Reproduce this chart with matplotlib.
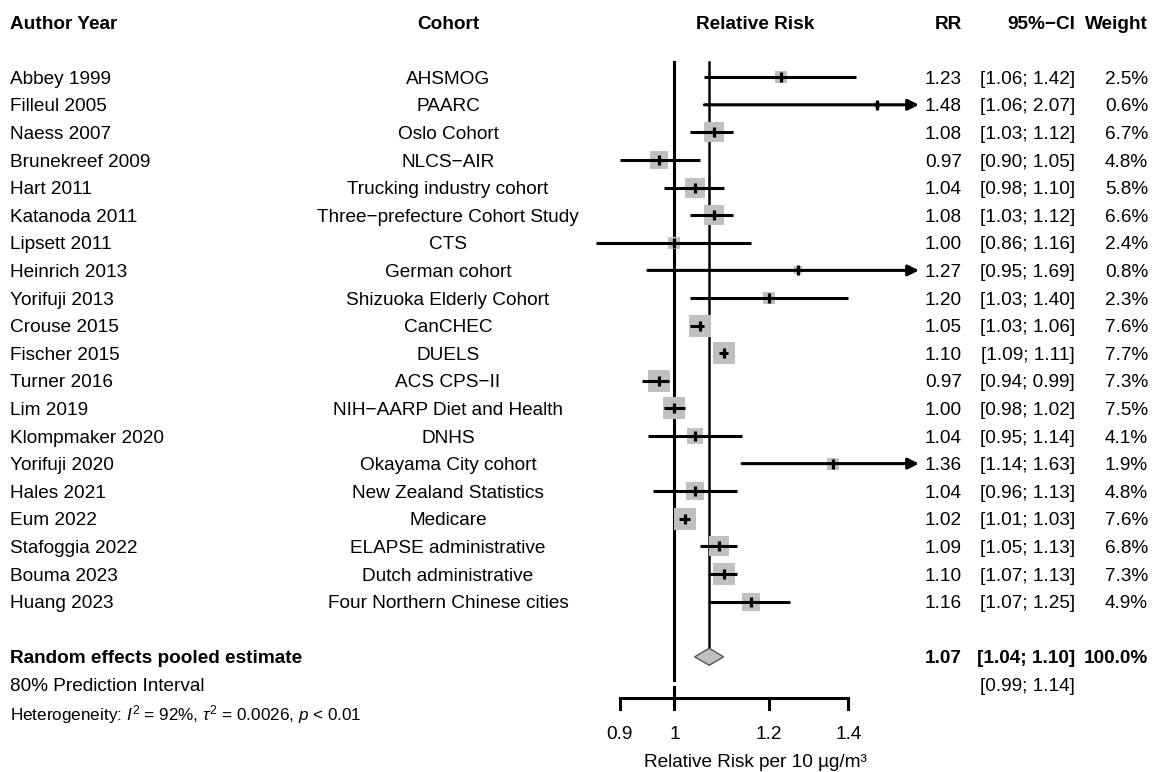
#-*- coding: utf-8 -*-
#-----------------------------------------------------#
# Forest plot: relative risk per 10 ug/m3             #
#-----------------------------------------------------#
import numpy as np
import matplotlib
matplotlib.use('Agg')
import matplotlib.pyplot as plt
import matplotlib.transforms as mtransforms

plt.rcParams['font.family'] = ['Liberation Sans', 'DejaVu Sans']
plt.rcParams['mathtext.fontset'] = 'custom'
plt.rcParams['mathtext.rm'] = 'Liberation Sans'
plt.rcParams['mathtext.it'] = 'Liberation Sans:italic'
plt.rcParams['mathtext.bf'] = 'Liberation Sans:bold'

#----------------------------------------------------------#
# Dados dos estudos                                        #
#----------------------------------------------------------#
authors = ['Abbey 1999', 'Filleul 2005', 'Naess 2007', 'Brunekreef 2009', 'Hart 2011',
           'Katanoda 2011', 'Lipsett 2011', 'Heinrich 2013', 'Yorifuji 2013', 'Crouse 2015',
           'Fischer 2015', 'Turner 2016', 'Lim 2019', 'Klompmaker 2020', 'Yorifuji 2020',
           'Hales 2021', 'Eum 2022', 'Stafoggia 2022', 'Bouma 2023', 'Huang 2023']
cohorts = ['AHSMOG', 'PAARC', 'Oslo Cohort', 'NLCS\u2212AIR', 'Trucking industry cohort',
           'Three\u2212prefecture Cohort Study', 'CTS', 'German cohort', 'Shizuoka Elderly Cohort',
           'CanCHEC', 'DUELS', 'ACS CPS\u2212II', 'NIH\u2212AARP Diet and Health', 'DNHS',
           'Okayama City cohort', 'New Zealand Statistics', 'Medicare', 'ELAPSE administrative',
           'Dutch administrative', 'Four Northern Chinese cities']
rr = [1.23, 1.48, 1.08, 0.97, 1.04, 1.08, 1.00, 1.27, 1.20, 1.05,
      1.10, 0.97, 1.00, 1.04, 1.36, 1.04, 1.02, 1.09, 1.10, 1.16]
lower = [1.06, 1.06, 1.03, 0.90, 0.98, 1.03, 0.86, 0.95, 1.03, 1.03,
         1.09, 0.94, 0.98, 0.95, 1.14, 0.96, 1.01, 1.05, 1.07, 1.07]
upper = [1.42, 2.07, 1.12, 1.05, 1.10, 1.12, 1.16, 1.69, 1.40, 1.06,
         1.11, 0.99, 1.02, 1.14, 1.63, 1.13, 1.03, 1.13, 1.13, 1.25]
weight = [2.5, 0.6, 6.7, 4.8, 5.8, 6.6, 2.4, 0.8, 2.3, 7.6,
          7.7, 7.3, 7.5, 4.1, 1.9, 4.8, 7.6, 6.8, 7.3, 4.9]

# Estimativa combinada
pooled_rr = 1.07
pooled_lo = 1.04
pooled_hi = 1.10
pred_lo = 0.99
pred_hi = 1.14
xticks = [0.9, 1, 1.2, 1.4]
xlim = (0.85, 1.61)

#----------------------------------------------------------#
# Layout                                                   #
#----------------------------------------------------------#
W, H = 1154, 772
row_px = 27.6
top_px = 22.0
fig = plt.figure(figsize=(W / 100, H / 100), dpi=100)
ax_left = 590.3
ax_right = 920.5
ax = fig.add_axes([ax_left / W, 0, (ax_right - ax_left) / W, 1])
ax.set_xscale('log')
ax.set_xlim(*xlim)
ax.set_ylim((H - top_px) / row_px, -top_px / row_px)
ax.axis('off')

trans = mtransforms.blended_transform_factory(fig.transFigure, ax.transData)
trans_ax = mtransforms.blended_transform_factory(ax.transAxes, ax.transData)

fs = 13.7
fs_het = 12.3
va = 'center_baseline'
x_author = 10 / W
x_cohort = 448 / W
x_rr = 962 / W
x_ci = 1075 / W
x_w = 1148 / W

rows = np.arange(len(authors)) + 2
row_pool = rows[-1] + 2
row_pred = row_pool + 1
row_het = row_pred + 1

#----------------------------------------------------------#
# Cabecalho                                                #
#----------------------------------------------------------#
hdr = dict(fontsize=fs, fontweight='bold', va=va)
fig.text(x_author, 0, 'Author Year', ha='left', transform=trans, **hdr)
fig.text(x_cohort, 0, 'Cohort', ha='center', transform=trans, **hdr)
ax.text(0.5, 0, 'Relative Risk', ha='center', transform=trans_ax, **hdr)
fig.text(x_rr, 0, 'RR', ha='right', transform=trans, **hdr)
fig.text(x_ci, 0, '95%\u2212CI', ha='right', transform=trans, **hdr)
fig.text(x_w, 0, 'Weight', ha='right', transform=trans, **hdr)

#----------------------------------------------------------#
# Linhas de referencia                                     #
#----------------------------------------------------------#
line_top = 1.45
ax.plot([1, 1], [line_top, row_pred - 0.16], color='black', lw=2.2, zorder=1)
diam_h = 8.5 / row_px
ax.plot([pooled_rr, pooled_rr], [line_top, row_pool - diam_h], color='black', lw=1.8, zorder=1)

#----------------------------------------------------------#
# Estudos                                                  #
#----------------------------------------------------------#
for i, y in enumerate(rows):
    side_pt = 8.0 * np.sqrt(weight[i]) * 72 / 100
    ax.scatter([rr[i]], [y], s=side_pt ** 2, marker='s', color='#c0c0c0',
               linewidths=0, zorder=2)
    if upper[i] > xlim[1]:
        ax.annotate('', xy=(xlim[1] * 0.997, y), xytext=(lower[i], y),
                    arrowprops=dict(arrowstyle='-|>', lw=2.2, color='black',
                                    mutation_scale=16, shrinkA=0, shrinkB=0),
                    zorder=3)
    else:
        ax.plot([lower[i], upper[i]], [y, y], color='black', lw=2.2,
                solid_capstyle='butt', zorder=3)
    ax.plot([rr[i]], [y], marker='|', ms=7, mew=2.3, color='black', zorder=4)

    fig.text(x_author, y, authors[i], ha='left', va=va, fontsize=fs, transform=trans)
    fig.text(x_cohort, y, cohorts[i], ha='center', va=va, fontsize=fs, transform=trans)
    fig.text(x_rr, y, '%.2f' % rr[i], ha='right', va=va, fontsize=fs, transform=trans)
    fig.text(x_ci, y, '[%.2f; %.2f]' % (lower[i], upper[i]), ha='right', va=va,
             fontsize=fs, transform=trans)
    fig.text(x_w, y, '%.1f%%' % weight[i], ha='right', va=va, fontsize=fs, transform=trans)

#----------------------------------------------------------#
# Estimativa combinada                                     #
#----------------------------------------------------------#
ax.fill([pooled_lo, pooled_rr, pooled_hi, pooled_rr],
        [row_pool, row_pool - diam_h, row_pool, row_pool + diam_h],
        facecolor='#c0c0c0', edgecolor='#555555', lw=1.0, zorder=3)

fig.text(x_author, row_pool, 'Random effects pooled estimate', ha='left', va=va,
         fontsize=fs, fontweight='bold', transform=trans)
fig.text(x_rr, row_pool, '%.2f' % pooled_rr, ha='right', va=va, fontsize=fs,
         fontweight='bold', transform=trans)
fig.text(x_ci, row_pool, '[%.2f; %.2f]' % (pooled_lo, pooled_hi), ha='right', va=va,
         fontsize=fs, fontweight='bold', transform=trans)
fig.text(x_w, row_pool, '100.0%', ha='right', va=va, fontsize=fs,
         fontweight='bold', transform=trans)

fig.text(x_author, row_pred, '80% Prediction Interval', ha='left', va=va,
         fontsize=fs, transform=trans)
fig.text(x_ci, row_pred, '[%.2f; %.2f]' % (pred_lo, pred_hi), ha='right', va=va,
         fontsize=fs, transform=trans)

fig.text(x_author, row_het,
         r'Heterogeneity: $I^2$ = 92%, $\tau^2$ = 0.0026, $p$ < 0.01',
         ha='left', va=va, fontsize=fs_het, transform=trans)

#----------------------------------------------------------#
# Eixo x desenhado a mao                                   #
#----------------------------------------------------------#
axis_y = (698 - top_px) / row_px
tick_len = 11 / row_px
ax.plot([xticks[0], xticks[-1]], [axis_y, axis_y], color='black', lw=2.2,
        solid_capstyle='butt', zorder=3)
ax.plot([1, 1], [axis_y - tick_len, axis_y], color='black', lw=2.2, zorder=3)
for t in xticks:
    ax.plot([t, t], [axis_y, axis_y + tick_len], color='black', lw=2.2, zorder=3)
    ax.text(t, (732 - top_px) / row_px, '%g' % t, ha='center', va=va, fontsize=fs)
ax.text(0.5, (760 - top_px) / row_px, 'Relative Risk per 10 \u00b5g/m\u00b3', ha='center',
        va=va, fontsize=fs, transform=trans_ax)

plt.savefig('out.png', dpi=100)
